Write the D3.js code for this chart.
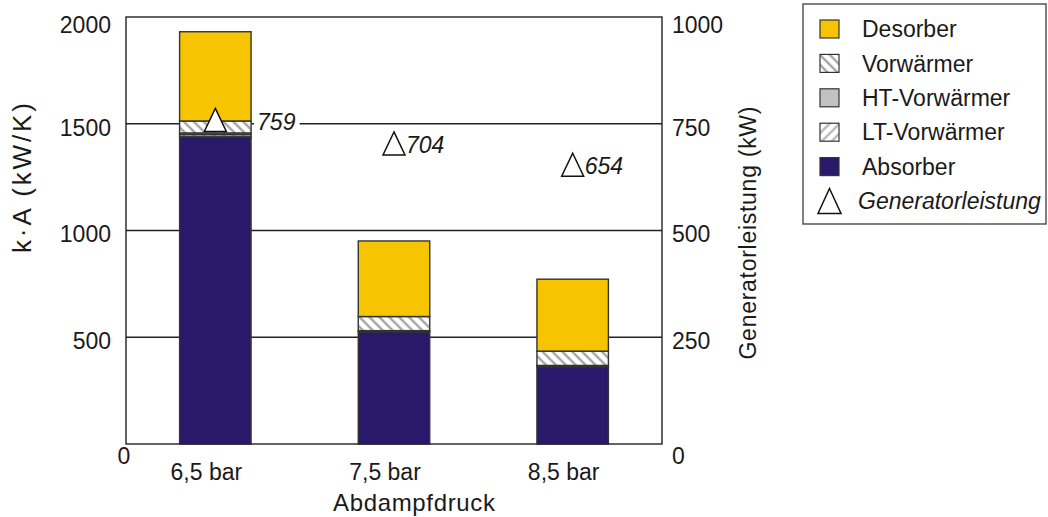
<!DOCTYPE html>
<html>
<head>
<meta charset="utf-8">
<script src="https://cdn.jsdelivr.net/npm/d3@7"></script>
<style>
  html, body { margin: 0; padding: 0; background: #fff; }
  svg { display: block; font-family: "Liberation Sans", Arial, Helvetica, sans-serif; }
</style>
</head>
<body>
<svg id="chart" width="1048" height="517"></svg>
<script>
// Steam pressure variants
const categories = ["6,5 bar", "7,5 bar", "8,5 bar"];

// k·A of the heat exchangers (kW/K)
const desorber     = [418, 354, 337];
const vorwaermer   = [56, 66, 67];
const htVorwaermer = [8, 6, 6];
const ltVorwaermer = [10, 0, 0];
const absorber     = [1439, 525, 362];

// Generator output (kW)
const generatorleistung = [759, 704, 654];

// Axis ticks
const kaTicks = [0, 500, 1000, 1500, 2000];
const powerTicks = [0, 250, 500, 750, 1000];

// Series (stack order from the bottom) and legend entries (top down)
const seriesKeys  = ["absorber", "lt", "ht", "vorw", "desorber"];
const seriesNames = {
  desorber: "Desorber", vorw: "Vorwärmer", ht: "HT-Vorwärmer",
  lt: "LT-Vorwärmer", absorber: "Absorber"
};
const legendKeys = ["desorber", "vorw", "ht", "lt", "absorber"];

const rows = categories.map((c, i) => ({
  cat: c,
  absorber: absorber[i], lt: ltVorwaermer[i], ht: htVorwaermer[i],
  vorw: vorwaermer[i], desorber: desorber[i],
  power: generatorleistung[i]
}));

const svg = d3.select("#chart");
const TEXT = "#1a1a1a";
const FS = 23;

const plot = { left: 126, right: 662, top: 17, bottom: 444 };

const x = d3.scaleBand().domain(categories)
  .range([plot.left, plot.right]).paddingInner(0.6).paddingOuter(0.3);
const y = d3.scaleLinear().domain([0, 2000]).range([plot.bottom, plot.top]);
const y2 = d3.scaleLinear().domain([0, 1000]).range([plot.bottom, plot.top]);

// Hatch patterns
const defs = svg.append("defs");
function hatch(id, angle, color) {
  const p = defs.append("pattern").attr("id", id)
    .attr("patternUnits", "userSpaceOnUse")
    .attr("width", 7).attr("height", 7)
    .attr("patternTransform", `rotate(${angle})`);
  p.append("rect").attr("width", 7).attr("height", 7).attr("fill", "#fff");
  p.append("line").attr("x1", 2).attr("x2", 2).attr("y1", 0).attr("y2", 7)
    .attr("stroke", color).attr("stroke-width", 2.4);
}
hatch("hatchVorw", -45, "#a4a4a4");
hatch("hatchLT", 45, "#b8b8b8");

const fills = {
  desorber: "#F6C400",
  vorw: "url(#hatchVorw)",
  ht: "#c2c2c2",
  lt: "url(#hatchLT)",
  absorber: "#2A196B"
};

// Gridlines
svg.append("g").selectAll("line")
  .data(kaTicks.filter(t => t > 0 && t < 2000))
  .join("line")
  .attr("x1", plot.left).attr("x2", plot.right)
  .attr("y1", d => y(d)).attr("y2", d => y(d))
  .attr("stroke", "#222").attr("stroke-width", 1.4);

// Stacked bars
const stack = d3.stack().keys(seriesKeys)(rows);
const barG = svg.append("g");
stack.forEach(layer => {
  barG.append("g").selectAll("rect")
    .data(layer)
    .join("rect")
    .attr("x", d => x(d.data.cat))
    .attr("width", x.bandwidth())
    .attr("y", d => y(d[1]))
    .attr("height", d => Math.max(0, y(d[0]) - y(d[1])))
    .attr("fill", fills[layer.key])
    .attr("stroke", "#333")
    .attr("stroke-width", d => (d[1] - d[0]) > 0 ? 1.4 : 0);
});

// Plot frame
svg.append("rect")
  .attr("x", plot.left).attr("y", plot.top)
  .attr("width", plot.right - plot.left).attr("height", plot.bottom - plot.top)
  .attr("fill", "none").attr("stroke", "#222").attr("stroke-width", 1.4);

// Left axis
const tickDy = (d, max) => d === 0 ? 12 : (d === max ? 8 : 4);
const axL = svg.append("g").attr("transform", `translate(${plot.left},0)`)
  .call(d3.axisLeft(y).tickValues(kaTicks).tickSize(0).tickPadding(15).tickFormat(d3.format("d")));
axL.select(".domain").remove();
axL.selectAll("text")
  .attr("font-size", FS).attr("fill", TEXT).attr("font-family", null)
  .attr("y", d => tickDy(d, 2000))
  .attr("x", d => d === 0 ? -2 : -15)
  .attr("text-anchor", d => d === 0 ? "middle" : "end");

// Right axis
const axR = svg.append("g").attr("transform", `translate(${plot.right},0)`)
  .call(d3.axisRight(y2).tickValues(powerTicks).tickSize(0).tickPadding(10).tickFormat(d3.format("d")));
axR.select(".domain").remove();
axR.selectAll("text")
  .attr("font-size", FS).attr("fill", TEXT).attr("font-family", null)
  .attr("y", d => tickDy(d, 1000));

// Category axis
const axB = svg.append("g").attr("transform", `translate(0,${plot.bottom})`)
  .call(d3.axisBottom(x).tickSize(0).tickPadding(20));
axB.select(".domain").remove();
axB.selectAll("text")
  .attr("font-size", FS).attr("fill", TEXT).attr("font-family", null)
  .attr("x", -9);

// Axis titles
svg.append("text")
  .attr("transform", `translate(22,178) rotate(-90)`)
  .attr("text-anchor", "middle").attr("dominant-baseline", "central")
  .attr("font-size", 26).attr("fill", TEXT)
  .attr("textLength", 150).attr("lengthAdjust", "spacing")
  .text("k·A (kW/K)");

svg.append("text")
  .attr("transform", `translate(748,233) rotate(-90)`)
  .attr("text-anchor", "middle").attr("dominant-baseline", "central")
  .attr("font-size", 23).attr("fill", TEXT)
  .attr("textLength", 253).attr("lengthAdjust", "spacing")
  .text("Generatorleistung (kW)");

svg.append("text")
  .attr("x", 414).attr("y", 511)
  .attr("text-anchor", "middle")
  .attr("font-size", 24).attr("fill", TEXT)
  .attr("textLength", 162).attr("lengthAdjust", "spacing")
  .text("Abdampfdruck");

// Generator output markers
const triW = 22, triH = 23;
const triPath = (w, h) => `M0,${-h / 2}L${w / 2},${h / 2}L${-w / 2},${h / 2}Z`;
const cx = d => x(d.cat) + x.bandwidth() / 2;
const barTop = d => y(d.absorber + d.lt + d.ht + d.vorw + d.desorber);
const insideBar = d => y2(d.power) > barTop(d);

const markG = svg.append("g");
rows.forEach(d => {
  const ty = y2(d.power);
  const inside = insideBar(d);
  const lx = inside ? x(d.cat) + x.bandwidth() + 6 : cx(d) + triW / 2 + 1;
  const label = markG.append("text")
    .attr("x", lx).attr("y", ty).attr("dy", "0.42em")
    .attr("font-size", FS).attr("font-style", "italic").attr("fill", TEXT)
    .text(d.power);
  if (inside) {
    const bb = label.node().getBBox();
    markG.insert("rect", "text")
      .attr("x", bb.x - 3).attr("y", ty - 6)
      .attr("width", bb.width + 7).attr("height", 12)
      .attr("fill", "#fff");
  }
  markG.append("path")
    .attr("transform", `translate(${cx(d)},${ty})`)
    .attr("d", triPath(triW, triH))
    .attr("fill", "#fff").attr("stroke", "#111").attr("stroke-width", 1.5)
    .attr("stroke-linejoin", "miter");
});

// Legend
const lg = svg.append("g");
lg.append("rect")
  .attr("x", 803).attr("y", 4).attr("width", 243).attr("height", 220)
  .attr("fill", "#fff").attr("stroke", "#555").attr("stroke-width", 1.5);
const rowY = i => 29 + i * 34.4;
legendKeys.forEach((k, i) => {
  lg.append("rect")
    .attr("x", 820).attr("y", rowY(i) - 9).attr("width", 19).attr("height", 18)
    .attr("fill", fills[k]).attr("stroke", "#333").attr("stroke-width", 1.2);
  lg.append("text")
    .attr("x", 862).attr("y", rowY(i)).attr("dy", "0.36em")
    .attr("font-size", FS).attr("fill", TEXT)
    .text(seriesNames[k]);
});
const gi = legendKeys.length;
lg.append("path")
  .attr("transform", `translate(829.5,${rowY(gi)})`)
  .attr("d", triPath(23, 25))
  .attr("fill", "#fff").attr("stroke", "#111").attr("stroke-width", 1.5);
lg.append("text")
  .attr("x", 858).attr("y", rowY(gi)).attr("dy", "0.36em")
  .attr("font-size", FS).attr("font-style", "italic").attr("fill", TEXT)
  .text("Generatorleistung");
</script>
</body>
</html>
